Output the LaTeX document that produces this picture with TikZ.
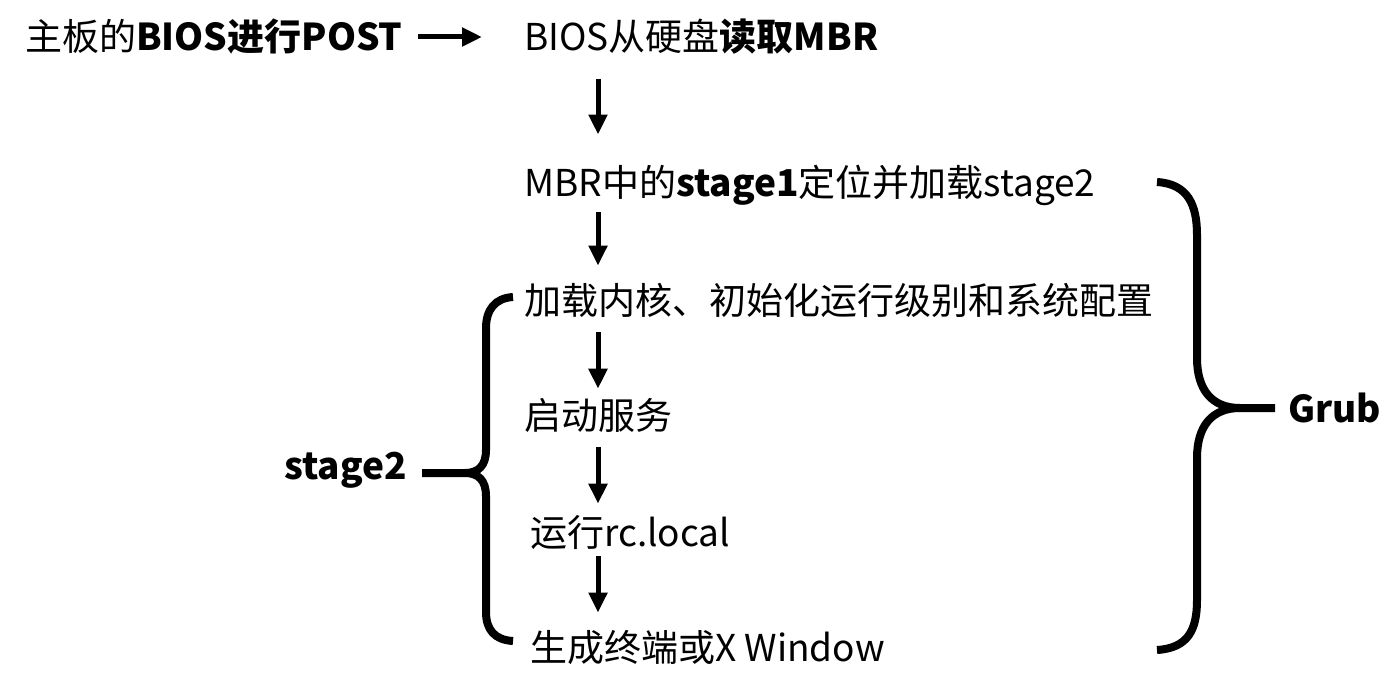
\documentclass[tikz,border=0pt]{standalone}
\usepackage{fontspec}
\setmainfont{Noto Sans CJK SC}
\usetikzlibrary{arrows.meta}
\begin{document}
\begin{tikzpicture}[x=1pt,y=-1pt,
  txt/.style={anchor=west,inner sep=0pt,font=\fontsize{37}{40}\selectfont},
  arr/.style={line width=5pt,-{Triangle[length=20pt,width=18pt]}},
  brace/.style={line width=8pt,line cap=butt}]
\useasboundingbox (0,0) rectangle (1396,693);
\node[txt] (post) at (25,37) {主板的\textbf{BIOS进行POST}};
\node[txt] (mbr) at (524,37) {BIOS从硬盘\textbf{读取MBR}};
\node[txt] (st1) at (524,185) {MBR中的\textbf{stage1}定位并加载stage2};
\node[txt] (kern) at (524,300) {加载内核、初始化运行级别和系统配置};
\node[txt] (serv) at (524,415) {启动服务};
\node[txt] (rc) at (530,532) {运行rc.local};
\node[txt] (term) at (530,648) {生成终端或X Window};
\node[txt] (s2) at (284,470) {\textbf{stage2}};
\node[txt] (grub) at (1288,408) {\textbf{Grub}};
\coordinate (ax) at (598,0);
\draw[arr,shorten <=15pt,shorten >=42pt] (post.east) -- (mbr.west);
\draw[arr,shorten <=24pt,shorten >=30pt] (mbr.south -| ax) -- (st1.north -| ax);
\draw[arr,shorten <=7pt,shorten >=17pt] (st1.south -| ax) -- (kern.north -| ax);
\draw[arr,shorten <=15pt,shorten >=9pt] (kern.south -| ax) -- (serv.north -| ax);
\draw[arr,shorten <=15pt,shorten >=11pt] (serv.south -| ax) -- (rc.north -| ax);
\draw[arr,shorten <=7pt,shorten >=18pt] (rc.south -| ax) -- (term.north -| ax);
% right brace (Grub)
\coordinate (gt) at (1157,182);
\coordinate (gm) at (1275,408);
\coordinate (gb) at (1157,650);
\draw[brace] (gt) .. controls (1188,184) and (1197,205) .. (1197,235)
  -- (1197,358) .. controls (1197,390) and (1212,408) .. (1240,408) -- (gm);
\draw[brace] (1240,408) .. controls (1212,408) and (1197,426) .. (1197,458)
  -- (1197,600) .. controls (1197,630) and (1188,648) .. (gb);
% left brace (stage2)
\coordinate (lt) at (513,297);
\coordinate (lm) at (422,473);
\coordinate (lb) at (513,641);
\draw[brace] (lt) .. controls (495,298) and (486,310) .. (486,328)
  -- (486,450) .. controls (486,466) and (478,473) .. (465,473) -- (lm);
\draw[brace] (465,473) .. controls (478,473) and (486,480) .. (486,496)
  -- (486,612) .. controls (486,630) and (495,640) .. (lb);
\end{tikzpicture}
\end{document}
